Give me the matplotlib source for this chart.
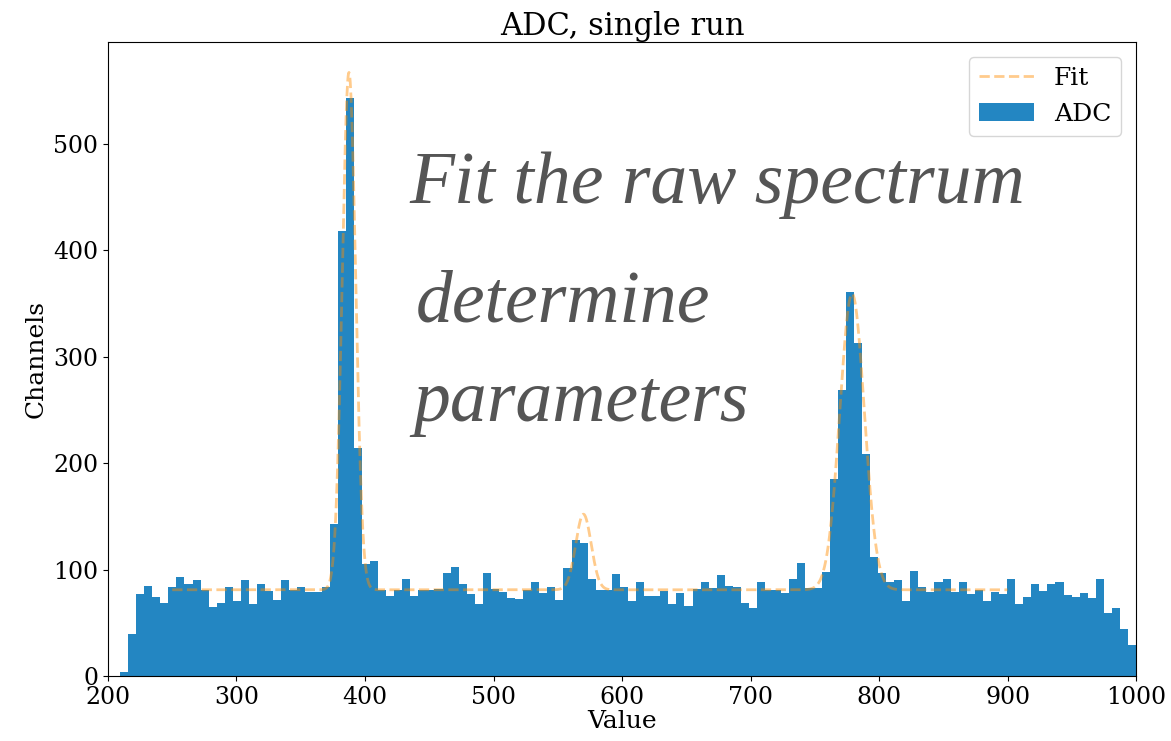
import numpy as np
import matplotlib
matplotlib.use("Agg")
import matplotlib.pyplot as plt

# Channel counts per ADC bin (126 bins spanning the recorded range)
counts = [
    4, 39, 77, 85, 74, 69, 84, 93, 86, 90,
    81, 65, 69, 84, 70, 90, 68, 86, 80, 71,
    90, 81, 84, 79, 79, 84, 143, 418, 543, 214,
    105, 108, 81, 75, 81, 91, 75, 81, 81, 82,
    97, 102, 86, 77, 68, 97, 82, 79, 73, 72,
    81, 88, 78, 84, 71, 101, 128, 125, 91, 81,
    81, 96, 84, 70, 88, 75, 75, 80, 68, 78,
    66, 82, 88, 83, 95, 85, 84, 69, 64, 88,
    81, 81, 78, 91, 106, 83, 83, 98, 185, 269,
    361, 313, 209, 112, 97, 88, 90, 70, 99, 84,
    79, 88, 91, 79, 88, 77, 81, 70, 79, 77,
    91, 68, 74, 86, 80, 86, 88, 76, 74, 78,
    73, 91, 59, 64, 44, 29,
]
adc_min, adc_max = 209.3, 1000.0

# Fitted model: flat background plus three Gaussian peaks
background = 81.0
peak_centers = [387.5, 570.0, 779.0]
peak_amplitudes = [486.0, 71.0, 278.0]
peak_sigmas = [5.2, 6.0, 9.5]
fit_range = (250.0, 900.0)

x_ticks = [200, 300, 400, 500, 600, 700, 800, 900, 1000]
y_ticks = [0, 100, 200, 300, 400, 500]

plt.rcParams["font.family"] = "DejaVu Serif"

edges = np.linspace(adc_min, adc_max, len(counts) + 1)
fit_x = np.linspace(fit_range[0], fit_range[1], 2000)
fit_y = np.full_like(fit_x, background)
for c, a, s in zip(peak_centers, peak_amplitudes, peak_sigmas):
    fit_y += a * np.exp(-0.5 * ((fit_x - c) / s) ** 2)

fig = plt.figure(figsize=(11.71, 7.41), dpi=100)
ax = fig.add_axes([0.0922, 0.0877, 0.8780, 0.8553])

ax.plot(fit_x, fit_y, "--", color="darkorange", alpha=0.45, lw=2, label="Fit", zorder=3)
ax.hist(edges[:-1], bins=edges, weights=counts, color="#2386c2", label="ADC", zorder=2)

ax.set_xlim(200, 1000)
ax.set_xticks(x_ticks)
ax.set_yticks(y_ticks)
ax.tick_params(labelsize=17)
ax.set_xlabel("Value", fontsize=18, labelpad=1)
ax.set_ylabel("Channels", fontsize=18)
ax.set_title("ADC, single run", fontsize=22, pad=5)

leg = ax.legend(loc="upper right", fontsize=18, framealpha=0.8,
                handlelength=2.2, borderaxespad=0.6)

note_style = dict(family="Liberation Serif", style="italic", color="#555555",
                  fontsize=53, va="baseline", ha="left")
fig.text(0.350, 0.726, "Fit the raw spectrum", **note_style)
fig.text(0.355, 0.566, "determine", **note_style)
fig.text(0.353, 0.432, "parameters", **note_style)

fig.savefig("out.png", dpi=100)
